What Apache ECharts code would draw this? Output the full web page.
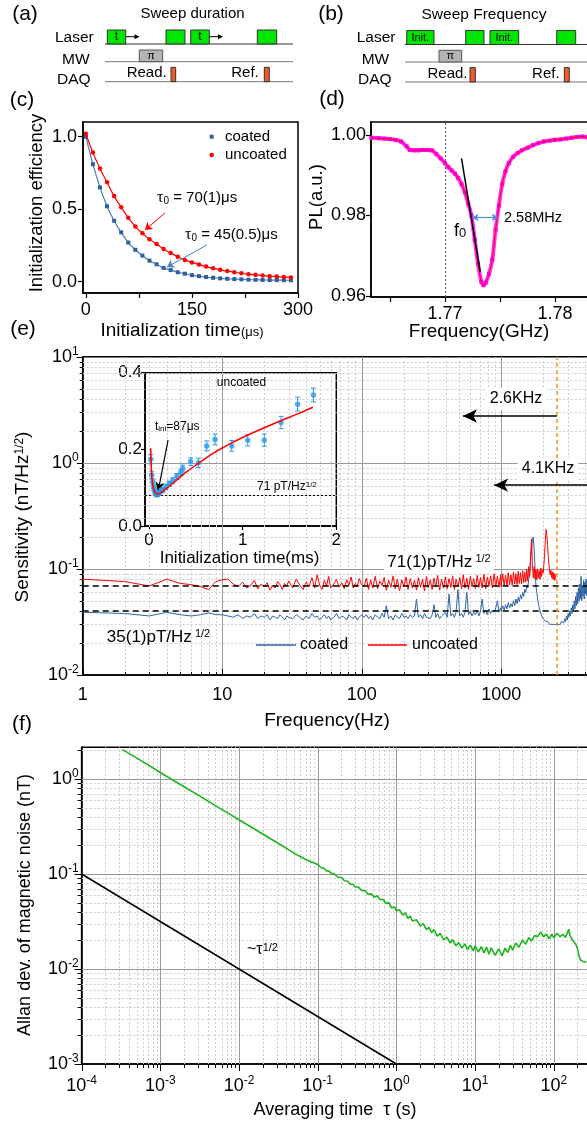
<!DOCTYPE html>
<html><head><meta charset="utf-8">
<script src="https://cdn.jsdelivr.net/npm/echarts@6/dist/echarts.min.js"></script>
<style>html,body{margin:0;padding:0;background:#fff}#c{width:587px;height:1124px}</style>
</head><body><div id="c"></div>
<script>
const FF = "'Liberation Sans', Arial, sans-serif";
const SERIF = "'Liberation Serif', 'DejaVu Serif', serif";

// ---------- (c) initialization efficiency ----------
const cTime = [0,10,20,30,40,50,60,70,80,90,100,110,120,130,140,150,160,170,180,190,200,210,220,230,240,250,260,270,280,290];
const cCoated = [1.0,0.81,0.65,0.52,0.42,0.34,0.27,0.22,0.18,0.145,0.12,0.095,0.08,0.065,0.055,0.045,0.038,0.032,0.027,0.023,0.02,0.018,0.016,0.014,0.013,0.012,0.011,0.011,0.01,0.01];
const cUncoated = [1.02,0.89,0.78,0.685,0.59,0.513,0.441,0.38,0.334,0.292,0.26,0.225,0.197,0.172,0.15,0.133,0.118,0.104,0.092,0.082,0.073,0.065,0.058,0.052,0.047,0.042,0.038,0.035,0.032,0.029];
const cXTicks = [0,75,150,225,300], cXLabels = [0,150,300], cYTicks = [0,0.5,1.0];

// ---------- (d) ODMR dip ----------
const dFreq = [1.7633,1.7640,1.7645,1.7650,1.7655,1.7660,1.7665,1.7668,1.7672,1.7676,1.7680,1.7684,1.7688,1.7692,1.7696,1.7700,1.7703,1.7706,1.7709,1.7712,1.7715,1.7718,1.7721,1.7724,1.7727,1.7730,1.7733,1.7735,1.7737,1.7740,1.7743,1.7746,1.7749,1.7752,1.7755,1.7758,1.7762,1.7766,1.7770,1.7775,1.7780,1.7785,1.7790,1.7795,1.7800,1.7805,1.7810,1.7815,1.7820,1.7825,1.7830,1.7835];
const dPL = [0.9993,0.9992,0.9991,0.9990,0.9988,0.9984,0.9972,0.9963,0.9962,0.9962,0.9963,0.9963,0.9962,0.9953,0.9942,0.9930,0.9920,0.9912,0.9904,0.9893,0.9878,0.9858,0.9830,0.9800,0.9740,0.9680,0.9636,0.9627,0.9633,0.9655,0.9690,0.9765,0.9825,0.9878,0.9910,0.9930,0.9946,0.9955,0.9962,0.9968,0.9975,0.9980,0.9984,0.9986,0.9988,0.9989,0.9991,0.9993,0.9995,0.9996,0.9994,0.9994];
const dF0 = 1.7724;
const dTangent = [[1.7715,0.9942],[1.7732,0.966]];
const dWidth = [[1.7725,0.9795],[1.7748,0.9795]];
const dXTicks = [1.765,1.77,1.775,1.78], dXLabels = [1.77,1.78], dYTicks = [0.96,0.98,1.00];

// ---------- (e) sensitivity spectrum ----------
const eFreq = [1,2,3,4,5,6,7,8,9,10,
11,12,13,14,15,16,17,18,19,20,21,22,23,24,25,26,27,28,29,30,32,34,36,38,40,42,44,46,48,50,52,54,56,58,60,63,66,69,72,75,78,81,84,87,90,93,96,100,
104,108,112,116,120,125,130,135,140,145,150,156,162,168,174,180,187,194,201,208,215,223,231,239,247,255,264,273,282,291,300,310,320,330,340,350,362,374,386,398,410,423,436,449,462,475,490,505,520,535,550,567,584,601,618,635,654,673,692,711,730,752,774,796,818,840,865,890,915,940,965,990,
1000,1025,1050,1075,1100,1125,1150,1175,1200,1225,1250,1275,1300,1325,1350,1375,1400,1425,1450,1475,1500,1525,1550,1575,1600,1625,1650,1675,1700,1725,1750,1775,1800,1825,1850,1875,1900,1925,1950,1975,2000,2025,2050,2075,2100,2125,2150,2175,2200,2225,2250,2275,2300,2325,2350,2375,2400,2425,2450,2475,
2500,2540,2580,2620,2660,2700,2740,2780,2820,2860,2900,2940,2980,3020,3060,3100,3140,3180,3220,3260,3300,3340,3380,3420,3460,3500,3540,3580,3620,3660,3700,3740,3780,3820,3860,3900,3940,3980,4020,4060,4100,4140,4180,4220,4260,4300,4340,4380,4420,4460,4500,4540,4580,4620,4660,4700,4740,4780];
const eUncoated = [0.080,0.076,0.069,0.080,0.073,0.071,0.068,0.064,0.076,0.079,
0.080,0.072,0.068,0.075,0.066,0.070,0.078,0.065,0.072,0.068,0.074,0.063,0.070,0.066,0.076,0.071,0.064,0.073,0.069,0.077,0.066,0.080,0.070,0.064,0.075,0.068,0.083,0.066,0.088,0.070,0.064,0.078,0.069,0.085,0.066,0.072,0.080,0.067,0.074,0.065,0.079,0.070,0.084,0.066,0.073,0.068,0.081,0.071,
0.068,0.082,0.064,0.079,0.066,0.085,0.065,0.077,0.070,0.083,0.063,0.078,0.067,0.086,0.065,0.080,0.062,0.079,0.068,0.084,0.064,0.081,0.066,0.078,0.063,0.083,0.067,0.080,0.062,0.085,0.066,0.079,0.064,0.082,0.068,0.087,0.063,0.080,0.066,0.084,0.065,0.081,0.067,0.086,0.064,0.080,0.068,0.083,0.065,0.088,0.066,0.082,0.064,0.085,0.068,0.081,0.065,0.087,0.067,0.083,0.066,0.089,0.065,0.084,0.069,0.086,0.066,0.090,0.068,0.085,0.067,0.088,
0.068,0.090,0.070,0.087,0.069,0.092,0.071,0.088,0.070,0.093,0.072,0.090,0.071,0.095,0.073,0.092,0.072,0.096,0.074,0.093,0.075,0.099,0.077,0.105,0.085,0.130,0.190,0.110,0.082,0.105,0.080,0.098,0.079,0.100,0.082,0.096,0.080,0.102,0.085,0.098,0.092,0.110,0.140,0.190,0.235,0.210,0.170,0.130,0.110,0.095,0.088,0.097,0.083,0.094,0.080,0.092,0.078,0.090,0.082,0.079];
const eCoated = [0.039,0.038,0.036,0.039,0.037,0.036,0.037,0.0385,0.037,0.037,
0.036,0.035,0.037,0.034,0.036,0.035,0.038,0.034,0.036,0.035,0.037,0.033,0.036,0.035,0.034,0.037,0.035,0.033,0.036,0.035,0.034,0.037,0.035,0.033,0.036,0.034,0.038,0.035,0.036,0.033,0.035,0.037,0.034,0.036,0.033,0.035,0.038,0.034,0.036,0.035,0.033,0.037,0.035,0.034,0.036,0.033,0.035,0.037,
0.035,0.037,0.034,0.036,0.033,0.037,0.035,0.034,0.038,0.035,0.045,0.034,0.036,0.033,0.037,0.035,0.034,0.038,0.035,0.036,0.034,0.037,0.035,0.036,0.052,0.035,0.037,0.034,0.038,0.035,0.036,0.034,0.037,0.046,0.035,0.038,0.034,0.036,0.035,0.039,0.035,0.058,0.036,0.038,0.035,0.039,0.064,0.036,0.038,0.035,0.039,0.060,0.037,0.040,0.036,0.039,0.037,0.041,0.036,0.040,0.052,0.038,0.041,0.037,0.042,0.038,0.041,0.039,0.043,0.050,0.039,0.043,
0.040,0.045,0.041,0.046,0.042,0.048,0.043,0.047,0.044,0.050,0.045,0.052,0.047,0.054,0.049,0.057,0.052,0.060,0.055,0.064,0.060,0.070,0.066,0.080,0.090,0.120,0.150,0.190,0.200,0.150,0.100,0.070,0.060,0.052,0.047,0.043,0.040,0.038,0.036,0.035,0.034,0.033,0.034,0.032,0.033,0.031,0.032,0.031,0.031,0.030,0.031,0.029,0.030,0.029,0.030,0.029,0.030,0.029,0.030,0.029,
0.029,0.030,0.029,0.031,0.030,0.032,0.031,0.033,0.031,0.034,0.032,0.036,0.033,0.038,0.035,0.040,0.036,0.043,0.038,0.046,0.040,0.050,0.042,0.055,0.045,0.060,0.047,0.066,0.050,0.072,0.052,0.085,0.050,0.070,0.055,0.078,0.052,0.075,0.058,0.080,0.056,0.076,0.060,0.082,0.058,0.079,0.062,0.084,0.060,0.080,0.064,0.085,0.062,0.082,0.066,0.086,0.064,0.083];
const eRefUncoated = 0.071, eRefCoated = 0.035, eCutoff = 2504;
const eArrow26 = [[2504,2.76],[532,2.76]], eArrow41 = [[4800,0.616],[889,0.616]];
const eXTicks = [1,10,100,1000], eXMajor = [10,100,1000];
const eXMinor = [2,3,4,5,6,7,8,9,20,30,40,50,60,70,80,90,200,300,400,500,600,700,800,900,2000,3000,4000];
const eYTicks = [0.01,0.1,1,10], eYMajor = [0.1,1];
const eYMinor = [0.02,0.03,0.04,0.05,0.06,0.07,0.08,0.09,0.2,0.3,0.4,0.5,0.6,0.7,0.8,0.9,2,3,4,5,6,7,8,9];

// ---------- (e) inset ----------
const iTime = [0.018,0.029,0.04,0.05,0.06,0.07,0.08,0.09,0.10,0.11,0.13,0.146,0.18,0.217,0.253,0.296,0.338,0.36,0.445,0.527,0.616,0.705,0.883,1.054,1.231,1.41,1.587,1.755];
const iSens = [0.174,0.133,0.115,0.10,0.092,0.086,0.082,0.083,0.086,0.087,0.092,0.094,0.102,0.110,0.118,0.129,0.139,0.150,0.168,0.165,0.209,0.226,0.209,0.224,0.224,0.270,0.318,0.342];
const iErr = [0.012,0.010,0.008,0.008,0.007,0.006,0.006,0.006,0.006,0.006,0.006,0.006,0.007,0.007,0.008,0.008,0.008,0.009,0.010,0.012,0.013,0.014,0.014,0.015,0.016,0.016,0.018,0.018];
const iFitTime = [0.018,0.025,0.035,0.05,0.07,0.087,0.12,0.16,0.2,0.3,0.4,0.5,0.6,0.7,0.8,0.9,1.0,1.2,1.4,1.6,1.75];
const iFitSens = [0.203,0.15,0.115,0.095,0.086,0.083,0.086,0.093,0.1,0.121,0.141,0.159,0.176,0.192,0.206,0.219,0.231,0.253,0.274,0.294,0.31];
const iRef = 0.076;
const iArrow = [[0.203,0.224],[0.096,0.0887]];
const iXTicks = [0,1,2], iYTicks = [0,0.2,0.4];

// ---------- (f) Allan deviation ----------
const fTau = [3.3e-4,5e-4,7e-4,1e-3,2e-3,3e-3,5e-3,7e-3,1e-2,2e-2,3e-2,5e-2,7e-2,
0.1,0.11,0.12,0.13,0.14,0.15,0.16,0.18,0.2,0.22,0.24,0.26,0.28,0.3,0.33,0.36,0.4,0.44,0.48,0.52,0.57,0.62,0.68,0.74,0.8,0.87,0.95,1.0,1.1,1.2,1.3,1.4,1.5,1.6,1.8,2.0,2.2,2.4,2.6,2.8,3.0,3.3,3.6,4.0,4.4,4.8,5.2,5.7,6.2,6.8,7.4,8.0,8.7,9.5,10,11,12,13,14,15,16,18,20,22,24,26,28,30,33,36,40,44,48,52,57,62,68,74,80,87,95,100,110,120,130,140,150,155,160,170,180,190,200,210,220,230,240,250,260];
const fAllan = [2.04,1.67,1.41,1.17,0.83,0.68,0.525,0.445,0.373,0.264,0.216,0.166,0.142,
0.126,0.117,0.115,0.108,0.107,0.101,0.101,0.093,0.092,0.085,0.084,0.078,0.078,0.073,0.073,0.067,0.067,0.061,0.062,0.057,0.059,0.054,0.054,0.049,0.050,0.044,0.045,0.041,0.042,0.037,0.039,0.034,0.036,0.032,0.033,0.0285,0.030,0.026,0.0275,0.024,0.026,0.0222,0.0237,0.0203,0.0216,0.0188,0.0203,0.0175,0.019,0.0166,0.0184,0.016,0.0178,0.0155,0.0176,0.0151,0.0172,0.0148,0.017,0.0143,0.0167,0.0139,0.0163,0.0137,0.0166,0.0149,0.0177,0.0158,0.0188,0.0169,0.0202,0.0182,0.0214,0.0197,0.0225,0.0218,0.0245,0.0218,0.0234,0.0208,0.0232,0.0213,0.0238,0.0218,0.0232,0.0215,0.0245,0.0262,0.0228,0.0205,0.0192,0.0182,0.0165,0.0135,0.0124,0.0127,0.0119,0.0122,0.0118];
const fRefTau = [1e-4,1], fRefVal = [0.1,0.001];
const fXTicks = [1e-4,1e-3,1e-2,0.1,1,10,100], fXMajor = [1e-3,1e-2,0.1,1,10,100];
const fXMinor = [2e-4,3e-4,4e-4,5e-4,6e-4,7e-4,8e-4,9e-4,2e-3,3e-3,4e-3,5e-3,6e-3,7e-3,8e-3,9e-3,0.02,0.03,0.04,0.05,0.06,0.07,0.08,0.09,0.2,0.3,0.4,0.5,0.6,0.7,0.8,0.9,2,3,4,5,6,7,8,9,20,30,40,50,60,70,80,90,200,300];
const fYTicks = [0.001,0.01,0.1,1], fYMajor = [0.01,0.1,1];
const fYMinor = [2e-3,3e-3,4e-3,5e-3,6e-3,7e-3,8e-3,9e-3,0.02,0.03,0.04,0.05,0.06,0.07,0.08,0.09,0.2,0.3,0.4,0.5,0.6,0.7,0.8,0.9,2];

// ---------- helpers ----------
const zip = (xs, ys) => ys.map((y, i) => [xs[i], y]);
function supLabel(v) {
  const e = Math.log10(v), r = Math.round(e);
  if (Math.abs(e - r) > 1e-6) return '';
  return '{b|10}{s|' + r + '}';
}
const supRich = {b: {fontSize: 18, fontFamily: FF, color: '#000', lineHeight: 22}, s: {fontSize: 12, fontFamily: FF, color: '#000', verticalAlign: 'top', lineHeight: 12}};

function logGrid(g) {
  return function (params, api) {
    const bl = api.coord([g.xr[0], g.yr[0]]);
    const tr = api.coord([g.xr[1], g.yr[1]]);
    const ch = [];
    const add = (x1, y1, x2, y2, st) => ch.push({type: 'line', silent: true, shape: {x1, y1, x2, y2}, style: st});
    const minor = {stroke: '#cdcdcd', lineWidth: 1, lineDash: [2, 2]};
    const major = {stroke: '#9a9a9a', lineWidth: 1};
    const tick = {stroke: '#000', lineWidth: 1};
    const X = v => Math.round(api.coord([v, g.yr[0]])[0]) + 0.5;
    const Y = v => Math.round(api.coord([g.xr[0], v])[1]) + 0.5;
    g.xMinor.forEach(v => { const x = X(v); add(x, bl[1], x, tr[1], minor); });
    g.yMinor.forEach(v => { const y = Y(v); add(bl[0], y, tr[0], y, minor); });
    g.xMajor.forEach(v => { const x = X(v); add(x, bl[1], x, tr[1], major); });
    g.yMajor.forEach(v => { const y = Y(v); add(bl[0], y, tr[0], y, major); });
    g.xTicks.forEach(v => { const x = X(v); add(x, bl[1], x, bl[1] + g.xDir * g.maj, tick); });
    g.xMinor.forEach(v => { const x = X(v); add(x, bl[1], x, bl[1] + g.xDir * g.min, tick); });
    g.yTicks.forEach(v => { const y = Y(v); add(bl[0], y, bl[0] - g.maj, y, tick); });
    g.yMinor.forEach(v => { const y = Y(v); add(bl[0], y, bl[0] - g.min, y, tick); });
    return {type: 'group', children: ch};
  };
}

function T(x, y, text, size, o) {
  o = o || {};
  const st = {text: text, fontSize: size, fontFamily: o.ff || FF, fill: o.color || '#000',
    align: o.align || 'left', verticalAlign: o.va || 'middle'};
  if (o.rich) st.rich = o.rich;
  if (o.bg) { st.backgroundColor = o.bg; st.padding = o.pad || [1, 3]; }
  return {type: 'text', x: x, y: y, rotation: o.rot || 0, z: 50, silent: true, style: st};
}
function R(x, y, w, h, fill, stroke) {
  return {type: 'rect', z: 50, silent: true, shape: {x, y, width: w, height: h}, style: {fill: fill, stroke: stroke || '#333', lineWidth: 1}};
}
function L(x1, y1, x2, y2, color, w) {
  return {type: 'line', z: 50, silent: true, shape: {x1, y1, x2, y2}, style: {stroke: color || '#333', lineWidth: w || 1}};
}
function Arr(x1, y, x2) { // small right-pointing arrow
  return [L(x1, y, x2 - 4, y, '#000', 1), {type: 'polygon', z: 50, silent: true, shape: {points: [[x2, y], [x2 - 5, y - 2.5], [x2 - 5, y + 2.5]]}, style: {fill: '#000'}}];
}
const rich = (sz, subsz, extra) => Object.assign({
  a: {fontSize: sz, fontFamily: FF, fill: '#000'},
  t: {fontSize: sz + 1, fontFamily: SERIF, fill: '#000'},
  s: {fontSize: subsz, fontFamily: FF, fill: '#000', verticalAlign: 'bottom'},
  p: {fontSize: subsz, fontFamily: FF, fill: '#000', verticalAlign: 'top'}
}, extra || {});

// ---------- axes ----------
function valAxis(gi, min, max, ticks, labels, fmt, margin, size, tickLen) {
  return {gridIndex: gi, type: 'value', min: min, max: max,
    axisLine: {show: true, onZero: false, lineStyle: {color: '#000', width: 1.5}},
    splitLine: {show: false},
    axisTick: {show: true, inside: false, length: tickLen || 5, customValues: ticks, lineStyle: {color: '#000', width: 1.2}},
    axisLabel: {show: true, customValues: labels, formatter: fmt, margin: margin, fontSize: size || 18, fontFamily: FF, color: '#000'}};
}
function logAxis(gi, min, max, labels, fmt, margin) {
  return {gridIndex: gi, type: 'log', logBase: 10, min: min, max: max,
    axisLine: {show: true, onZero: false, lineStyle: {color: '#000', width: 1.5}},
    splitLine: {show: false}, minorTick: {show: false}, minorSplitLine: {show: false},
    axisTick: {show: false},
    axisLabel: {show: true, customValues: labels, formatter: fmt, margin: margin, fontSize: 18, fontFamily: FF, color: '#000', rich: supRich}};
}
const gridBase = {show: true, borderColor: '#000', borderWidth: 1.5, backgroundColor: 'transparent', containLabel: false, outerBoundsMode: 'none'};

const ML = (data) => ({silent: true, symbol: 'none', animation: false, label: {show: false}, emphasis: {disabled: true}, data: data});
const arrowLine = (pts, color, w, size) => [
  {coord: pts[0], symbol: 'none', lineStyle: {color: color, width: w, type: 'solid'}},
  {coord: pts[1], symbol: 'arrow', symbolSize: size}];

const option = {
  animation: false,
  backgroundColor: '#fff',
  textStyle: {fontFamily: FF, color: '#000'},
  grid: [
    Object.assign({left: 83, top: 122, width: 215, height: 171}, gridBase),
    Object.assign({left: 371, top: 122, width: 226, height: 175}, gridBase),
    Object.assign({left: 82.7, top: 356.7, width: 513.5, height: 318.3}, gridBase),
    Object.assign({left: 145, top: 372.7, width: 191.3, height: 153.3}, gridBase),
    Object.assign({left: 81.6, top: 747.3, width: 515, height: 316.7}, gridBase)
  ],
  xAxis: [
    valAxis(0, -4, 300, cXTicks, cXLabels, v => String(Math.round(v)), 8),
    valAxis(1, 1.76327, 1.78382, dXTicks, dXLabels, v => v.toFixed(2), 8),
    logAxis(2, 1, 4800, eXTicks, v => String(Math.round(v)), 11),
    valAxis(3, -0.043, 2, iXTicks, iXTicks, v => String(Math.round(v)), 6, 17, 4),
    logAxis(4, 1e-4, 350, fXTicks, supLabel, 11)
  ],
  yAxis: [
    valAxis(0, -0.078, 1.101, cYTicks, cYTicks, v => v.toFixed(1), 6),
    valAxis(1, 0.95975, 1.00323, dYTicks, dYTicks, v => v.toFixed(2), 5),
    logAxis(2, 0.01, 10, eYTicks, supLabel, 4),
    valAxis(3, 0, 0.4, iYTicks, iYTicks, v => v.toFixed(1), 3, 17, 4),
    logAxis(4, 0.001, 2.157, fYTicks, supLabel, 3)
  ],
  series: [
    // (c)
    {name: 'coated', type: 'line', xAxisIndex: 0, yAxisIndex: 0, data: zip(cTime, cCoated), smooth: 0.4,
      symbol: 'rect', symbolSize: 4, showAllSymbol: true, itemStyle: {color: '#2f5f9e'}, lineStyle: {color: '#4a7cc0', width: 1.2}, z: 3,
      markLine: ML([arrowLine([[171.3, 0.253], [114.8, 0.101]], '#4a80c8', 1, 7)])},
    {name: 'uncoated', type: 'line', xAxisIndex: 0, yAxisIndex: 0, data: zip(cTime, cUncoated), smooth: 0.4,
      symbol: 'circle', symbolSize: 4.5, showAllSymbol: true, itemStyle: {color: '#ff0000'}, lineStyle: {color: '#ff0000', width: 1.2}, z: 4,
      markLine: ML([arrowLine([[111.9, 0.474], [83.7, 0.357]], '#ff0000', 1, 7)])},
    // (d)
    {name: 'PL data', type: 'line', xAxisIndex: 1, yAxisIndex: 1, data: zip(dFreq, dPL), smooth: 0.3,
      symbol: 'rect', symbolSize: 4, showAllSymbol: true, itemStyle: {color: '#ff00ff'}, lineStyle: {color: '#ff33ff', width: 4}, z: 3},
    {name: 'PL fit', type: 'line', xAxisIndex: 1, yAxisIndex: 1, data: zip(dFreq, dPL), smooth: 0.3, showSymbol: false,
      lineStyle: {color: '#ff0000', width: 1}, z: 4,
      markLine: ML([
        {xAxis: dF0, lineStyle: {color: '#666', width: 1.2, type: [2, 2]}},
        [{coord: dTangent[0], symbol: 'none', lineStyle: {color: '#000', width: 1.5, type: 'solid'}}, {coord: dTangent[1], symbol: 'none'}],
        [{coord: dWidth[0], symbol: 'arrow', symbolSize: 6, lineStyle: {color: '#4a90e2', width: 1.2, type: 'solid'}}, {coord: dWidth[1], symbol: 'arrow', symbolSize: 6}]
      ])},
    // (e) grid
    {type: 'custom', xAxisIndex: 2, yAxisIndex: 2, data: [[1, 0.01]], clip: false, silent: true, z: 1,
      renderItem: logGrid({xr: [1, 4800], yr: [0.01, 10], xMinor: eXMinor, xMajor: eXMajor, yMinor: eYMinor, yMajor: eYMajor, xTicks: eXTicks, yTicks: eYTicks, xDir: -1, maj: 6, min: 3})},
    {name: 'coated', type: 'line', xAxisIndex: 2, yAxisIndex: 2, data: zip(eFreq, eCoated), showSymbol: false,
      lineStyle: {color: '#2f64a2', width: 1}, z: 3},
    {name: 'uncoated', type: 'line', xAxisIndex: 2, yAxisIndex: 2, data: zip(eFreq, eUncoated), showSymbol: false,
      lineStyle: {color: '#ff0000', width: 1}, z: 4,
      markLine: ML([
        {yAxis: eRefUncoated, lineStyle: {color: '#000', width: 1.5, type: [6, 4]}},
        {yAxis: eRefCoated, lineStyle: {color: '#000', width: 1.5, type: [6, 4]}},
        {xAxis: eCutoff, lineStyle: {color: '#f7941d', width: 1.5, type: [4, 3]}},
        arrowLine(eArrow26, '#000', 1.5, [10, 14]),
        arrowLine(eArrow41, '#000', 1.5, [10, 14])
      ])},
    // inset
    {type: 'custom', xAxisIndex: 3, yAxisIndex: 3, data: iTime.map((t, i) => [t, iSens[i] - iErr[i], iSens[i] + iErr[i]]),
      encode: {x: 0, y: [1, 2]}, z: 5, silent: true,
      renderItem: function (params, api) {
        const lo = api.coord([api.value(0), api.value(1)]), hi = api.coord([api.value(0), api.value(2)]);
        const st = {stroke: '#2a9ae6', lineWidth: 1}, w = 2.5;
        return {type: 'group', children: [
          {type: 'line', shape: {x1: lo[0], y1: lo[1], x2: hi[0], y2: hi[1]}, style: st},
          {type: 'line', shape: {x1: lo[0] - w, y1: lo[1], x2: lo[0] + w, y2: lo[1]}, style: st},
          {type: 'line', shape: {x1: hi[0] - w, y1: hi[1], x2: hi[0] + w, y2: hi[1]}, style: st}]};
      }},
    {name: 'inset data', type: 'scatter', xAxisIndex: 3, yAxisIndex: 3, data: zip(iTime, iSens), symbol: 'circle', symbolSize: 5.5,
      itemStyle: {color: '#2a9ae6'}, z: 6},
    {name: 'inset fit', type: 'line', xAxisIndex: 3, yAxisIndex: 3, data: zip(iFitTime, iFitSens), smooth: 0.4, showSymbol: false,
      lineStyle: {color: '#ff0000', width: 1.5}, z: 7,
      markLine: ML([
        {yAxis: iRef, lineStyle: {color: '#000', width: 1, type: [2, 2]}},
        arrowLine(iArrow, '#000', 1.2, [7, 10])
      ])},
    // (f)
    {type: 'custom', xAxisIndex: 4, yAxisIndex: 4, data: [[1e-4, 0.001]], clip: false, silent: true, z: 1,
      renderItem: logGrid({xr: [1e-4, 350], yr: [0.001, 2.157], xMinor: fXMinor, xMajor: fXMajor, yMinor: fYMinor, yMajor: fYMajor, xTicks: fXTicks, yTicks: fYTicks, xDir: 1, maj: 7, min: 4})},
    {name: 'Allan', type: 'line', xAxisIndex: 4, yAxisIndex: 4, data: zip(fTau, fAllan), showSymbol: false,
      lineStyle: {color: '#1db41d', width: 1.6}, z: 3},
    {name: 'tau^-1/2', type: 'line', xAxisIndex: 4, yAxisIndex: 4, data: zip(fRefTau, fRefVal), showSymbol: false,
      lineStyle: {color: '#000', width: 1.5}, z: 3}
  ],
  graphic: {elements: []}
};

const G = option.graphic.elements;
// (a)
G.push(T(25, 14, '(a)', 21, {align: 'center'}));
G.push(T(192.5, 14, 'Sweep duration', 15, {align: 'center'}));
G.push(T(55, 37.5, 'Laser', 15.5), T(62, 59.5, 'MW', 15.5), T(57, 79.5, 'DAQ', 15.5));
G.push(L(105, 44, 293, 44), L(105, 61.7, 293, 61.7, '#777'), L(105, 81.7, 293, 81.7, '#777'));
G.push(R(107.3, 30, 18.4, 14, '#00e600'), R(166, 30, 19, 14, '#00e600'), R(190.7, 30, 18.6, 14, '#00e600'), R(257.3, 30, 19.4, 14, '#00e600'));
G.push(T(116.5, 37, 't', 12, {align: 'center'}), T(200, 37, 't', 12, {align: 'center'}));
G.push(...Arr(125.7, 36.7, 139.5), ...Arr(209.3, 36.7, 223));
G.push(R(139.3, 50, 23.4, 11.7, '#b4b4b4', '#555'), T(151, 56, 'π', 11, {align: 'center'}));
G.push(T(146.7, 73.3, 'Read.', 15, {align: 'center'}), R(171, 67.3, 4.7, 14.4, '#f05a28'));
G.push(T(245, 73.3, 'Ref.', 15, {align: 'center'}), R(264.3, 67.3, 5, 14.4, '#f05a28'));
// (b)
G.push(T(331, 14, '(b)', 21, {align: 'center'}));
G.push(T(484, 15, 'Sweep Frequency', 15.5, {align: 'center'}));
G.push(T(356.7, 37.5, 'Laser', 15.5), T(361.7, 59.5, 'MW', 15.5), T(358, 79.5, 'DAQ', 15.5));
G.push(L(405, 44.5, 587, 44.5), L(405, 62, 587, 62, '#777'), L(405, 82, 587, 82, '#777'));
G.push(R(406.7, 30.5, 27.3, 14, '#00e600'), R(465.7, 30.5, 18.3, 14, '#00e600'), R(490, 30.5, 28.7, 14, '#00e600'), R(556.7, 30.5, 19, 14, '#00e600'));
G.push(T(420.3, 37.5, 'Init.', 11, {align: 'center'}), T(504.3, 37.5, 'Init.', 11, {align: 'center'}));
G.push(R(439, 50.3, 22.7, 11.7, '#b4b4b4', '#555'), T(450.3, 56.2, 'π', 11, {align: 'center'}));
G.push(T(447.5, 73.5, 'Read.', 15, {align: 'center'}), R(470, 67.6, 5.3, 14.4, '#f05a28'));
G.push(T(545.8, 73.5, 'Ref.', 15, {align: 'center'}), R(564.3, 67.6, 5, 14.4, '#f05a28'));
// (c)
G.push(T(22, 100, '(c)', 21, {align: 'center'}));
G.push(T(37, 203, 'Initialization efficiency', 18.5, {align: 'center', rot: Math.PI / 2}));
G.push(T(182, 331, '{a|Initialization time}{b|(μs)}', 19, {align: 'center', rich: {a: {fontSize: 19, fontFamily: FF, fill: '#000', lineHeight: 22}, b: {fontSize: 13, fontFamily: FF, fill: '#000', verticalAlign: 'middle', lineHeight: 22, padding: [3, 0, 0, 0]}}}));
G.push({type: 'rect', z: 50, silent: true, shape: {x: 209.7, y: 134.7, width: 4, height: 4}, style: {fill: '#2f5f9e'}});
G.push({type: 'circle', z: 50, silent: true, shape: {cx: 211.7, cy: 155, r: 2.3}, style: {fill: '#ff0000'}});
G.push(T(225, 137, 'coated', 15), T(225, 155, 'uncoated', 15));
G.push(T(157, 198, '{t|τ}{s|0}{a| = 70(1)μs}', 15, {rich: rich(15, 10)}));
G.push(T(185, 235, '{t|τ}{s|0}{a| = 45(0.5)μs}', 15, {rich: rich(15, 10)}));
// (d)
G.push(T(332, 99, '(d)', 21, {align: 'center'}));
G.push(T(317, 197, 'PL(a.u.)', 18.5, {align: 'center', rot: Math.PI / 2}));
G.push(T(479, 332, 'Frequency(GHz)', 19, {align: 'center'}));
G.push(T(454, 231, '{a|f}{s|0}', 18, {rich: rich(18, 13)}));
G.push(T(504, 218, '2.58MHz', 14.5));
// (e)
G.push(T(23, 329, '(e)', 21, {align: 'center'}));
G.push(T(23, 517, '{a|Sensitivity (nT/Hz}{p|1/2}{a|)}', 19, {align: 'center', rot: Math.PI / 2, rich: rich(19, 12)}));
G.push(T(327, 721, 'Frequency(Hz)', 19, {align: 'center'}));
G.push(T(439, 562, '{a|71(1)pT/Hz}{p| 1/2}', 17, {align: 'center', bg: '#fff', pad: [3, 3], rich: rich(17, 11)}));
G.push(T(158.5, 637, '{a|35(1)pT/Hz}{p| 1/2}', 17, {align: 'center', rich: rich(17, 11)}));
G.push(T(516, 399, '2.6KHz', 16, {align: 'center', bg: '#fff', pad: [3, 4]}));
G.push(T(548, 469, '4.1KHz', 16, {align: 'center', bg: '#fff', pad: [3, 4]}));
G.push(L(256, 645, 296, 645, '#2f64a2', 1.5), T(300, 645, 'coated', 16));
G.push(L(368, 645, 407, 645, '#ff0000', 1.5), T(412, 645, 'uncoated', 16));
G.push(T(241.5, 383, 'uncoated', 12, {align: 'center'}));
G.push(T(155, 427, '{a|t}{s|ini}{a|=87μs}', 12, {rich: rich(12, 8)}));
G.push(T(257, 487, '{a|71 pT/Hz}{p|1/2}', 12, {rich: rich(12, 8)}));
G.push(T(239.5, 558, 'Initialization time(ms)', 17, {align: 'center'}));
// (f)
G.push(T(22, 724, '(f)', 21, {align: 'center'}));
G.push(T(25, 905, 'Allan dev. of magnetic noise (nT)', 18, {align: 'center', rot: Math.PI / 2}));
G.push(T(335, 1110, 'Averaging time  τ (s)', 18, {align: 'center'}));
G.push(T(247, 950, '{a|~τ}{p|1/2}', 16, {rich: rich(16, 11)}));

const chart = echarts.init(document.getElementById('c'), null, {renderer: 'canvas', width: 587, height: 1124});
chart.setOption(option);
</script>
</body></html>
